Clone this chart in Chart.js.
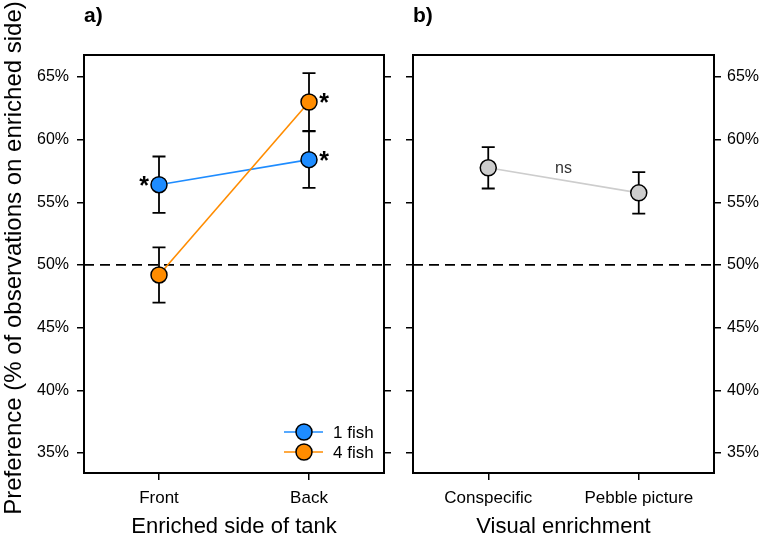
<!DOCTYPE html>
<html><head><meta charset="utf-8">
<script src="https://cdn.jsdelivr.net/npm/chart.js@4/dist/chart.umd.min.js"></script>
<style>
html,body{margin:0;padding:0;background:#fff;overflow:hidden}
#wrap{position:relative;width:766px;height:543px}
canvas{position:absolute;top:0}
#cA{left:0}
#cB{left:400px}
</style></head><body>
<div id="wrap"><canvas id="cA" width="400" height="543"></canvas><canvas id="cB" width="366" height="543"></canvas></div>
<script>
// ---- data ----
const sideCategories = ['Front', 'Back'];
const oneFishMean = [56.4, 58.4];
const oneFishErr = [2.25, 2.25];
const oneFishSig = ['left', 'right'];
const fourFishMean = [49.2, 63.0];
const fourFishErr = [2.2, 2.3];
const fourFishSig = [null, 'right'];
const enrichCategories = ['Conspecific', 'Pebble picture'];
const enrichMean = [57.75, 55.75];
const enrichErr = [1.65, 1.65];
const enrichNote = 'ns';
const yTicks = [35, 40, 45, 50, 55, 60, 65];
const yMin = 33.4, yMax = 66.75;
const chanceLevel = 50;

const FONT = "'Liberation Sans', Arial, Helvetica, sans-serif";
const BLUE = '#1E8CFF', ORANGE = '#FF8C00', GREY = '#CDCDCD';

function yScale(position, showLabels, width) {
  return {
    type: 'linear', position, min: yMin, max: yMax,
    afterBuildTicks: s => { s.ticks = yTicks.map(v => ({ value: v })); },
    afterFit: s => { s.width = width; },
    ticks: { display: showLabels, callback: v => v + '%', color: '#000', font: { family: FONT, size: 16 }, padding: position === 'left' ? 8 : 6 },
    grid: { drawOnChartArea: false, drawTicks: true, tickLength: 7, color: '#000', lineWidth: 1.5 },
    border: { display: true, color: '#000', width: 2 }
  };
}
function xScale(labels) {
  return {
    type: 'category', labels, offset: true,
    afterFit: s => { s.height = 70; },
    ticks: { color: '#000', font: { family: FONT, size: 17 }, padding: 8, maxRotation: 0, autoSkip: false },
    grid: { drawOnChartArea: false, drawTicks: true, tickLength: 7, color: '#000', lineWidth: 1.5 },
    border: { display: true, color: '#000', width: 2 }
  };
}

const decorPlugin = {
  id: 'decor',
  beforeDatasetsDraw(chart, args, opts) {
    const ctx = chart.ctx, ys = chart.scales.y, ca = chart.chartArea;
    ctx.save();
    const y50 = ys.getPixelForValue(chanceLevel);
    ctx.setLineDash([10, 6]); ctx.lineWidth = 1.8; ctx.strokeStyle = '#000';
    ctx.beginPath(); ctx.moveTo(ca.left, y50); ctx.lineTo(ca.right, y50); ctx.stroke();
    ctx.setLineDash([]);
    chart.data.datasets.forEach((ds, i) => {
      const meta = chart.getDatasetMeta(i);
      meta.data.forEach((pt, j) => {
        const m = ds.data[j], e = ds.errors[j];
        const yt = ys.getPixelForValue(m + e), yb = ys.getPixelForValue(m - e);
        ctx.lineWidth = 1.8; ctx.strokeStyle = '#000';
        ctx.beginPath();
        ctx.moveTo(pt.x, yt); ctx.lineTo(pt.x, yb);
        ctx.moveTo(pt.x - 6.5, yt); ctx.lineTo(pt.x + 6.5, yt);
        ctx.moveTo(pt.x - 6.5, yb); ctx.lineTo(pt.x + 6.5, yb);
        ctx.stroke();
      });
    });
    ctx.restore();
  },
  afterDraw(chart, args, opts) {
    const ctx = chart.ctx, ca = chart.chartArea;
    ctx.save();
    // box
    ctx.lineWidth = 2; ctx.strokeStyle = '#000';
    ctx.strokeRect(ca.left, ca.top, ca.right - ca.left, ca.bottom - ca.top);
    // asterisks
    ctx.fillStyle = '#000';
    ctx.font = 'bold 25px ' + FONT; ctx.textAlign = 'center'; ctx.textBaseline = 'alphabetic';
    chart.data.datasets.forEach((ds, i) => {
      if (!ds.sig) return;
      const meta = chart.getDatasetMeta(i);
      meta.data.forEach((pt, j) => {
        const s = ds.sig[j];
        if (!s) return;
        ctx.fillText('*', pt.x + (s === 'left' ? -15 : 15), pt.y + 9);
      });
    });
    // note (ns)
    if (opts.note) {
      const meta = chart.getDatasetMeta(0);
      const p0 = meta.data[0], p1 = meta.data[1];
      ctx.font = '16px ' + FONT; ctx.fillStyle = '#333'; ctx.textBaseline = 'middle';
      ctx.fillText(opts.note, (p0.x + p1.x) / 2, (p0.y + p1.y) / 2 - 12);
    }
    // legend
    if (opts.legend) {
      chart.data.datasets.forEach((ds, i) => {
        const y = opts.legend.y + i * 20, x = opts.legend.x;
        ctx.strokeStyle = ds.borderColor; ctx.lineWidth = 1.5;
        ctx.beginPath(); ctx.moveTo(x - 20, y); ctx.lineTo(x + 19, y); ctx.stroke();
        ctx.beginPath(); ctx.arc(x, y, 8, 0, Math.PI * 2);
        ctx.fillStyle = ds.pointBackgroundColor; ctx.fill();
        ctx.strokeStyle = '#000'; ctx.lineWidth = 1.5; ctx.stroke();
        ctx.fillStyle = '#000'; ctx.font = '17px ' + FONT; ctx.textAlign = 'left'; ctx.textBaseline = 'middle';
        ctx.fillText(ds.label, x + 29, y + 1);
      });
    }
    // panel label
    ctx.fillStyle = '#000'; ctx.font = 'bold 21px ' + FONT; ctx.textAlign = 'left'; ctx.textBaseline = 'alphabetic';
    ctx.fillText(opts.panel, ca.left, 22);
    // x title
    ctx.font = '22px ' + FONT; ctx.textAlign = 'center'; ctx.textBaseline = 'middle';
    ctx.fillText(opts.xTitle, (ca.left + ca.right) / 2, 527);
    // y title
    if (opts.yTitle) {
      ctx.save();
      ctx.translate(14, 258); ctx.rotate(-Math.PI / 2);
      ctx.font = '24px ' + FONT; ctx.textAlign = 'center'; ctx.textBaseline = 'middle';
      ctx.fillText(opts.yTitle, 0, 0);
      ctx.restore();
    }
    ctx.restore();
  }
};

function pointDs(label, data, errors, sig, color, lineColor) {
  return {
    label, data, errors, sig,
    borderColor: lineColor, borderWidth: 1.6,
    pointBackgroundColor: color, pointBorderColor: '#000', pointBorderWidth: 1.5,
    pointRadius: 8, pointHoverRadius: 8, tension: 0, fill: false
  };
}

new Chart(document.getElementById('cA'), {
  type: 'line',
  data: {
    labels: sideCategories,
    datasets: [
      Object.assign(pointDs('1 fish', oneFishMean, oneFishErr, oneFishSig, BLUE, BLUE), { order: 2 }),
      Object.assign(pointDs('4 fish', fourFishMean, fourFishErr, fourFishSig, ORANGE, ORANGE), { order: 1 })
    ]
  },
  options: {
    responsive: false, animation: false, events: [],
    layout: { padding: { top: 55, right: 0, bottom: 0, left: 0 } },
    scales: { x: xScale(sideCategories), y: yScale('left', true, 84), y2: yScale('right', false, 16) },
    plugins: {
      legend: { display: false }, tooltip: { enabled: false },
      decor: { panel: 'a)', xTitle: 'Enriched side of tank', yTitle: 'Preference (% of observations on enriched side)', legend: { x: 304, y: 432 } }
    }
  },
  plugins: [decorPlugin]
});

new Chart(document.getElementById('cB'), {
  type: 'line',
  data: {
    labels: enrichCategories,
    datasets: [pointDs('Visual enrichment', enrichMean, enrichErr, null, GREY, GREY)]
  },
  options: {
    responsive: false, animation: false, events: [],
    layout: { padding: { top: 55, right: 0, bottom: 0, left: 0 } },
    scales: { x: xScale(enrichCategories), y: yScale('left', false, 13), y2: yScale('right', true, 52) },
    plugins: {
      legend: { display: false }, tooltip: { enabled: false },
      decor: { panel: 'b)', xTitle: 'Visual enrichment', note: enrichNote }
    }
  },
  plugins: [decorPlugin]
});
</script>
</body></html>
